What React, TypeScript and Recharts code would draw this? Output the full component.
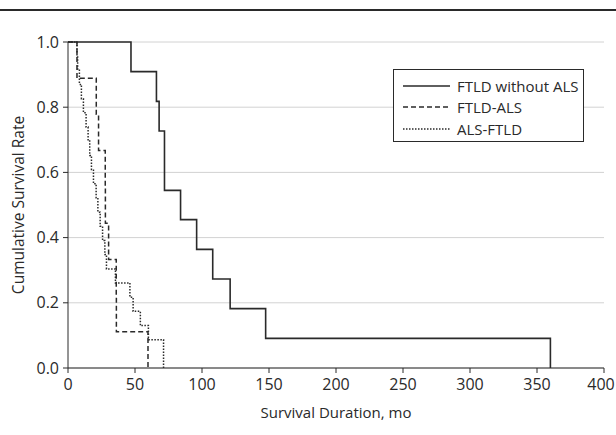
import { LineChart, Line, XAxis, YAxis, CartesianGrid } from 'recharts';

// Kaplan-Meier curves (months, survival)
const ftldTimes = [0, 47, 66, 68, 72, 84, 96, 108, 121, 147.5, 360];
const ftldSurv = [1, 0.909, 0.818, 0.727, 0.545, 0.455, 0.364, 0.273, 0.182, 0.091, 0];

const ftldAlsTimes = [0, 6.7, 21.1, 22.8, 27.8, 27.9, 30.3, 36, 36.1, 59.7];
const ftldAlsSurv = [1, 0.889, 0.778, 0.667, 0.556, 0.444, 0.333, 0.222, 0.111, 0];

const alsFtldTimes = [0, 6.7, 7.2, 8.5, 10, 11.5, 13.5, 15, 16.2, 17.5, 19, 21, 22.3, 24, 25.8, 27.5, 28.7, 35.4, 46.2, 48.6, 54, 60, 71.3];
const alsFtldSurv = [1, 0.957, 0.913, 0.87, 0.826, 0.783, 0.739, 0.696, 0.652, 0.609, 0.565, 0.522, 0.478, 0.435, 0.391, 0.348, 0.304, 0.261, 0.217, 0.174, 0.13, 0.087, 0];

const xTicks = [0, 50, 100, 150, 200, 250, 300, 350, 400];
const yTicks = [0, 0.2, 0.4, 0.6, 0.8, 1.0];

const seriesNames = ['FTLD without ALS', 'FTLD-ALS', 'ALS-FTLD'];
const dashes = ['', '5 3', '1.5 1.5'];

const toPoints = (t: number[], s: number[]) => t.map((x, i) => ({ t: x, s: s[i] }));

const FONT = '"Open Sans", "Noto Sans", sans-serif';
const INK = '#2a2a2a';

// last x label sits on the page edge, nudge it in a bit so it stays whole
const XTick = ({ x, y, payload }: any) => {
    const last = payload.value === xTicks[xTicks.length - 1];
    return (
        <text
            x={x + (last ? -3 : 0)}
            y={y}
            dy="0.9em"
            textAnchor="middle"
            fill={INK}
            fontSize={16}
            fontFamily={FONT}
        >
            {payload.value}
        </text>
    );
};

const LegendBox = () => (
    <div
        style={{
            position: 'absolute',
            left: 393,
            top: 69,
            border: `1px solid ${INK}`,
            width: 191,
            height: 73,
            boxSizing: 'border-box',
            background: '#fff',
            padding: '5px 0 0 9px',
            fontFamily: FONT,
            fontSize: 15,
            color: INK,
        }}
    >
        {seriesNames.map((name, i) => (
            <div key={name} style={{ display: 'flex', alignItems: 'center', height: 21.5 }}>
                <svg width={47} height={6} style={{ marginRight: 7 }}>
                    <line x1={0} y1={3} x2={47} y2={3} stroke={INK} strokeWidth={1.5} strokeDasharray={dashes[i]} />
                </svg>
                <span>{name}</span>
            </div>
        ))}
    </div>
);

export default function App() {
    const lines = [
        toPoints(ftldTimes, ftldSurv),
        toPoints(ftldAlsTimes, ftldAlsSurv),
        toPoints(alsFtldTimes, alsFtldSurv),
    ];

    return (
        <div style={{ position: 'absolute', left: 0, top: 0, width: 616, height: 435, background: '#fff' }}>
            <div style={{ position: 'absolute', left: 0, top: 9, width: 616, height: 2, background: INK }} />
            <LineChart width={616} height={435} margin={{ top: 42, right: 12, bottom: 0, left: 0 }}>
                <CartesianGrid vertical={false} stroke="#d2d2d2" />
                <XAxis
                    type="number"
                    dataKey="t"
                    domain={[0, 400]}
                    ticks={xTicks}
                    height={67}
                    tickSize={5}
                    tickMargin={3}
                    stroke={INK}
                    tick={<XTick />}
                    label={{
                        value: 'Survival Duration, mo',
                        position: 'insideBottom',
                        offset: 17,
                        style: { fill: INK, fontSize: 15, fontFamily: FONT },
                    }}
                />
                <YAxis
                    type="number"
                    domain={[0, 1]}
                    ticks={yTicks}
                    width={68}
                    tickSize={5}
                    tickMargin={4}
                    stroke={INK}
                    tickFormatter={(v) => v.toFixed(1)}
                    tick={{ fill: INK, fontSize: 16, fontFamily: FONT }}
                    label={{
                        value: 'Cumulative Survival Rate',
                        angle: -90,
                        position: 'insideLeft',
                        offset: 18,
                        style: { fill: INK, fontSize: 15.5, fontFamily: FONT, textAnchor: 'middle' },
                    }}
                />
                {lines.map((pts, i) => (
                    <Line
                        key={seriesNames[i]}
                        name={seriesNames[i]}
                        data={pts}
                        dataKey="s"
                        type="stepAfter"
                        stroke={INK}
                        strokeWidth={i === 0 ? 1.6 : 1.5}
                        strokeDasharray={dashes[i]}
                        dot={false}
                        activeDot={false}
                        isAnimationActive={false}
                    />
                ))}
            </LineChart>
            <LegendBox />
        </div>
    );
}
